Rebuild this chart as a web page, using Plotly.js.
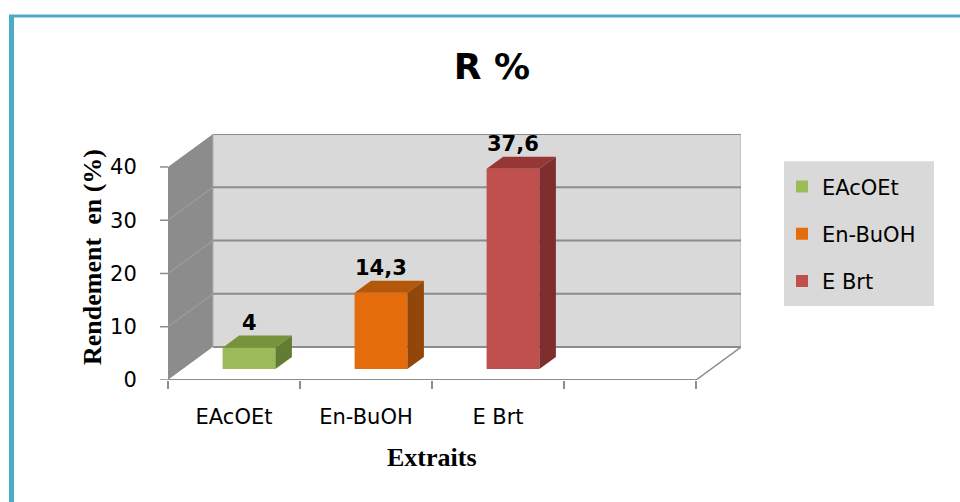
<!DOCTYPE html>
<html>
<head>
<meta charset="utf-8">
<script src="https://cdn.plot.ly/plotly-3.0.1.min.js"></script>
<style>
  html, body { margin: 0; padding: 0; background: #ffffff; }
  #chart { width: 960px; height: 502px; }
</style>
</head>
<body>
<div id="chart"></div>
<script>
// Extraction yield per extract (%)
const categories = ['EAcOEt', 'En-BuOH', 'E Brt'];
const values = [4, 14.3, 37.6];
const yTicks = [0, 10, 20, 30, 40];
const frontColors = ['#9BBB59', '#E46C0A', '#C0504D'];
const topColors = ['#77933C', '#B3570A', '#963735'];
const sideColors = ['#637C34', '#924607', '#7E2F2D'];

// Page geometry (px)
const M = { l: 168, r: 219, t: 133.7, b: 122 };
const W = 960, H = 502;
const plotW = W - M.l - M.r;
const plotH = H - M.t - M.b;
const px = xp => (xp - M.l) / plotW;
const py = yp => (H - M.b - yp) / plotH;

// Pseudo-3D frame: 4 category slots, full depth offset in axis units
const SLOTS = 4;
const DX = 0.341;          // depth shift along x (slot units)
const DY = 6.19;           // depth shift along y (value units)
const XMAX = SLOTS + DX;
const YTOP = 40;
const F0 = 1 / 3, F1 = 0.70; // bar front / back depth fractions
const BW = 0.40;             // bar width (slot units)

const base = F0 * DY;
const ddx = (F1 - F0) * DX, ddy = (F1 - F0) * DY;
const fmt = v => String(v).replace('.', ',');

const traces = [];
const annotations = [];
categories.forEach((name, i) => {
  const xc = i + 0.5 + F0 * DX;
  const xl = xc - BW / 2, xr = xc + BW / 2;
  const top = base + values[i];
  // front face
  traces.push({
    type: 'bar', x: [xc], y: [values[i]], base: [base], width: [BW],
    name: name, legendgroup: 'g' + i,
    marker: { color: frontColors[i], line: { width: 0 } },
    textposition: 'none', hoverinfo: 'skip'
  });
  // top face
  traces.push({
    type: 'scatter', mode: 'lines', fill: 'toself', showlegend: false,
    x: [xl, xr, xr + ddx, xl + ddx, xl],
    y: [top, top, top + ddy, top + ddy, top],
    fillcolor: topColors[i], line: { width: 0, color: topColors[i] }, hoverinfo: 'skip'
  });
  // right side face
  traces.push({
    type: 'scatter', mode: 'lines', fill: 'toself', showlegend: false,
    x: [xr, xr + ddx, xr + ddx, xr, xr],
    y: [base, base + ddy, top + ddy, top, base],
    fillcolor: sideColors[i], line: { width: 0, color: sideColors[i] }, hoverinfo: 'skip'
  });
  annotations.push({
    x: xc, y: top, xref: 'x', yref: 'y', text: fmt(values[i]), showarrow: false,
    yshift: 25, yanchor: 'middle',
    font: { family: 'DejaVu Sans', size: 21, color: '#000000', weight: 700 }
  });
});

annotations.push({
  x: SLOTS / 2, y: py(458), xref: 'x', yref: 'paper', text: 'Extraits', showarrow: false,
  xanchor: 'center', yanchor: 'middle',
  font: { family: 'Liberation Serif', size: 26, color: '#000000', weight: 700 }
});

const gridCol = '#8C8C8C';
const shapes = [];
// side wall
shapes.push({ type: 'path', xref: 'x', yref: 'y', layer: 'below',
  path: `M0,0 L0,${YTOP} L${DX},${YTOP + DY} L${DX},${DY} Z`,
  fillcolor: '#8C8C8C', line: { width: 0 } });
// back wall
shapes.push({ type: 'rect', xref: 'x', yref: 'y', layer: 'below',
  x0: DX, x1: XMAX, y0: DY, y1: YTOP + DY,
  fillcolor: '#D9D9D9', line: { width: 1, color: '#ADADAD' } });
// floor
shapes.push({ type: 'path', xref: 'x', yref: 'y', layer: 'below',
  path: `M0,0 L${SLOTS},0 L${XMAX},${DY} L${DX},${DY} Z`,
  fillcolor: '#FFFFFF', line: { width: 0 } });
// gridlines on the back wall and the side wall, short tick marks on the value axis
yTicks.forEach(v => {
  shapes.push({ type: 'line', xref: 'x', yref: 'y', layer: 'below',
    x0: DX, x1: XMAX, y0: v + DY, y1: v + DY, line: { color: gridCol, width: 2 } });
  if (v > 0 && v < YTOP) {
    shapes.push({ type: 'line', xref: 'x', yref: 'y', layer: 'below',
      x0: 0, x1: DX, y0: v, y1: v + DY, line: { color: '#A3A3A3', width: 1 } });
  }
  shapes.push({ type: 'line', xref: 'paper', yref: 'y',
    x0: px(160), x1: 0, y0: v, y1: v, line: { color: gridCol, width: 1.5 } });
});
// floor edges and value axis line
shapes.push({ type: 'line', xref: 'x', yref: 'y', layer: 'below',
  x0: 0, x1: SLOTS, y0: 0, y1: 0, line: { color: gridCol, width: 2 } });
shapes.push({ type: 'line', xref: 'x', yref: 'y', layer: 'below',
  x0: SLOTS, x1: XMAX, y0: 0, y1: DY, line: { color: gridCol, width: 1.5 } });
shapes.push({ type: 'line', xref: 'x', yref: 'y', layer: 'below',
  x0: 0, x1: 0, y0: 0, y1: YTOP, line: { color: gridCol, width: 1.5 } });
// legend box
shapes.push({ type: 'rect', xref: 'paper', yref: 'paper', layer: 'below',
  x0: px(784), x1: px(934), y0: py(306), y1: py(161),
  fillcolor: '#D9D9D9', line: { width: 0 } });
// outer frame
shapes.push({ type: 'line', xref: 'paper', yref: 'paper',
  x0: px(11.5), x1: px(11.5), y0: py(15), y1: py(510), line: { color: '#4BACC6', width: 5 } });
shapes.push({ type: 'line', xref: 'paper', yref: 'paper',
  x0: px(9), x1: px(970), y0: py(15.5), y1: py(15.5), line: { color: '#4BACC6', width: 3 } });

const layout = {
  width: W, height: H,
  margin: M,
  paper_bgcolor: '#FFFFFF', plot_bgcolor: 'rgba(0,0,0,0)',
  barmode: 'overlay',
  showlegend: true,
  title: {
    text: 'R %', x: 492 / W, y: 1 - 66 / H, xref: 'container', yref: 'container',
    xanchor: 'center', yanchor: 'middle',
    font: { family: 'DejaVu Sans', size: 36, color: '#000000', weight: 700 }
  },
  xaxis: {
    range: [0, XMAX], showgrid: false, zeroline: false, showline: false,
    tickmode: 'array', tickvals: [0.5, 1.5, 2.5], ticktext: categories,
    ticks: '', ticklabelstandoff: 22,
    tickfont: { family: 'DejaVu Sans', size: 21, color: '#000000' },
    minor: { tickmode: 'linear', tick0: 0, dtick: 1, ticks: 'outside', ticklen: 8,
      tickcolor: gridCol, tickwidth: 1.5, showgrid: false },
    fixedrange: true
  },
  yaxis: {
    range: [0, YTOP + DY], showgrid: false, zeroline: false, showline: false,
    tickmode: 'array', tickvals: yTicks,
    ticks: 'outside', ticklen: 26, tickcolor: 'rgba(0,0,0,0)', tickwidth: 1,
    tickfont: { family: 'DejaVu Sans', size: 21, color: '#000000' },
    title: {
      text: 'Rendement\u00a0 en (%)', standoff: 0,
      font: { family: 'Liberation Serif', size: 26, color: '#000000', weight: 700 }
    },
    fixedrange: true
  },
  legend: {
    x: px(782), y: py(166), xanchor: 'left', yanchor: 'top',
    bgcolor: 'rgba(0,0,0,0)', borderwidth: 0,
    traceorder: 'grouped', tracegroupgap: 17,
    font: { family: 'DejaVu Sans', size: 21, color: '#000000' }
  },
  shapes: shapes,
  annotations: annotations
};

Plotly.newPlot('chart', traces, layout, { staticPlot: true, displayModeBar: false });
</script>
</body>
</html>
